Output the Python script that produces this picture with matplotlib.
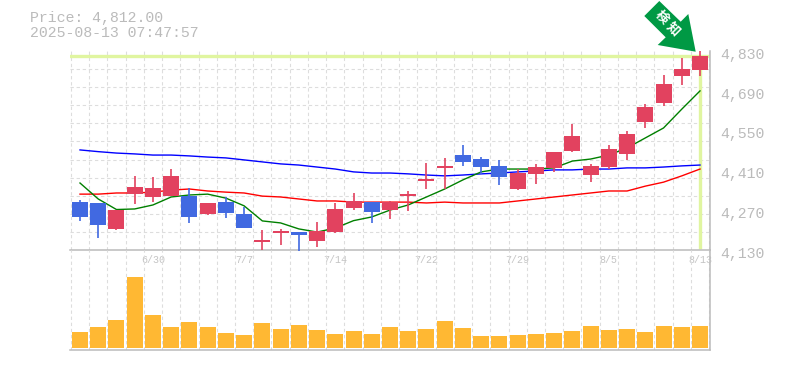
#!/usr/bin/env python3
"""Daily candlestick chart with moving averages and a volume panel."""
import matplotlib
matplotlib.use("Agg")
import matplotlib.pyplot as plt
import matplotlib.transforms as mtrans
import numpy as np
from matplotlib.patches import Polygon

# ----------------------- data -----------------------
opens = [4299, 4296, 4205, 4327, 4317, 4320, 4320, 4257, 4299, 4257, 4159, 4191,
         4194, 4162, 4194, 4278, 4299, 4271, 4320, 4373, 4419, 4464, 4450, 4426,
         4345, 4398, 4419, 4478, 4394, 4422, 4468, 4580, 4647, 4741, 4762]
closes = [4248, 4219, 4271, 4352, 4348, 4391, 4247, 4296, 4261, 4208, 4166, 4194,
          4184, 4198, 4275, 4303, 4264, 4299, 4327, 4380, 4426, 4440, 4422, 4387,
          4401, 4422, 4475, 4531, 4426, 4485, 4538, 4632, 4713, 4766, 4812]
highs = [4306, 4296, 4271, 4391, 4387, 4415, 4348, 4296, 4317, 4282, 4201, 4205,
         4194, 4229, 4296, 4331, 4299, 4303, 4338, 4436, 4454, 4499, 4457, 4447,
         4415, 4433, 4475, 4573, 4433, 4499, 4548, 4643, 4745, 4804, 4829]
lows = [4233, 4173, 4201, 4292, 4299, 4320, 4226, 4254, 4243, 4208, 4131, 4148,
        4127, 4141, 4191, 4271, 4226, 4240, 4268, 4345, 4345, 4426, 4398, 4359,
        4341, 4362, 4405, 4475, 4369, 4415, 4447, 4559, 4636, 4710, 4741]
ma_short = [4366, 4310, 4273, 4275, 4289, 4317, 4324, 4327, 4313, 4286, 4233, 4226,
            4205, 4194, 4208, 4234, 4247, 4271, 4289, 4317, 4345, 4377, 4405, 4415,
            4415, 4415, 4419, 4443, 4450, 4464, 4489, 4524, 4559, 4625, 4689]
ma_mid = [4327, 4327, 4331, 4331, 4334, 4341, 4345, 4338, 4334, 4331, 4320, 4317,
          4310, 4303, 4303, 4299, 4299, 4299, 4299, 4296, 4299, 4296, 4296, 4296,
          4303, 4310, 4317, 4324, 4331, 4338, 4338, 4355, 4369, 4391, 4415]
ma_long = [4482, 4476, 4471, 4468, 4464, 4464, 4461, 4457, 4454, 4447, 4440, 4433,
           4429, 4422, 4415, 4405, 4401, 4401, 4398, 4394, 4391, 4394, 4398, 4401,
           4405, 4408, 4412, 4412, 4415, 4415, 4419, 4419, 4422, 4426, 4429]
volumes = [160, 210, 280, 710, 330, 210, 260, 210, 150, 130, 250, 190, 230, 180,
           140, 170, 140, 210, 170, 190, 270, 200, 120, 120, 130, 140, 150, 170,
           220, 180, 190, 160, 220, 210, 220]
date_labels = ["6/30", "7/7", "7/14", "7/22", "7/29", "8/5", "8/13"]
date_index = [4, 9, 14, 19, 24, 29, 34]
price_ticks = [4830, 4690, 4550, 4410, 4270, 4130]
last_price = 4812

W, H = 785, 370
LEFT, RIGHT = 70, 710
MAIN_TOP, MAIN_BOTTOM, VOL_BOTTOM = 50.7, 250.3, 350
GRAY = "#bbbbbb"
GRID = "#dddddd"
UP = "#e2425f"
DOWN = "#4169e1"
HILITE = "#e0f5a0"
MONO = "Liberation Mono"
CJK = ["Noto Sans CJK JP", "DejaVu Sans"]


def box(top, bottom):
    return [LEFT / W, 1 - bottom / H, (RIGHT - LEFT) / W, (bottom - top) / H]


def style_panel(ax, xlim):
    ax.set_xlim(*xlim)
    ax.set_xticks(np.arange(len(opens) + 1) - 0.5, minor=True)
    ax.grid(which="minor", color=GRID, lw=0.8, ls=(0, (3, 2.5)))
    ax.tick_params(which="both", length=0)
    ax.set_axisbelow(True)
    for side in ["top", "left"]:
        ax.spines[side].set_visible(False)
    for side in ["right", "bottom"]:
        ax.spines[side].set_color(GRAY)
        ax.spines[side].set_linewidth(1.1)


fig = plt.figure(figsize=(W / 100, H / 100), dpi=100)
ax = fig.add_axes(box(MAIN_TOP, MAIN_BOTTOM))
vol = fig.add_axes(box(MAIN_BOTTOM, VOL_BOTTOM))
vol.patch.set_visible(False)

x = np.arange(len(opens))
xlim = (-0.548, 34.548)
o, c = np.array(opens), np.array(closes)
colors = [UP if b >= a else DOWN for a, b in zip(opens, closes)]

# ----------------------- price panel -----------------------
style_panel(ax, xlim)
ax.set_ylim(4130, 4830)
ax.set_yticks(np.linspace(4130, 4830, 12), minor=True)
ax.set_yticks(price_ticks)
ax.set_yticklabels([f"{p:,}" for p in price_ticks], family=MONO, fontsize=10.7, color=GRAY)
ax.yaxis.tick_right()
ax.tick_params(axis="y", which="major", pad=7.2)
ax.set_xticks(date_index)
ax.set_xticklabels(date_labels, family=MONO, fontsize=7.2, color="#c4c4c4")
ax.tick_params(axis="x", which="major", pad=3.5)
# labels sit a touch below their price
shift = mtrans.ScaledTranslation(0, -2.4 / 100, fig.dpi_scale_trans)
for lab in ax.get_yticklabels():
    lab.set_transform(lab.get_transform() + shift)

ax.axhline(last_price, color=HILITE, lw=2.4, zorder=1)
ax.vlines(x[-1], 4134, last_price, color=HILITE, lw=2.4, zorder=1)

ax.plot(x, ma_long, color="#0000ff", lw=1.0, zorder=2)
ax.plot(x, ma_mid, color="#ff0000", lw=1.0, zorder=2)
ax.plot(x, ma_short, color="#008000", lw=1.0, zorder=2)

ax.vlines(x, lows, highs, color=colors, lw=1.2, zorder=3, clip_on=False)
ax.bar(x, np.maximum(np.abs(c - o), 5), bottom=np.minimum(o, c), width=0.877,
       color=colors, zorder=4)

# ----------------------- volume panel -----------------------
style_panel(vol, xlim)
vol.set_ylim(-20, 977)
vol.set_xticks([])
vol.set_yticks([])
vol.bar(x, volumes, width=0.877, color="#ffb833", zorder=3)

# ----------------------- header and arrow -----------------------
fig.text(30 / W, 1 - 18 / H, "Price: 4,812.00", family=MONO, fontsize=10.7,
         color=GRAY, va="center")
fig.text(30 / W, 1 - 33 / H, "2025-08-13 07:47:57", family=MONO, fontsize=10.7,
         color=GRAY, va="center")

arrow_px = [(659.3, 1), (680.7, 21.7), (688.3, 14), (695.7, 51.7),
            (657.7, 45), (665.7, 37.3), (644.3, 16)]
arrow = Polygon([(px / W, 1 - py / H) for px, py in arrow_px], closed=True,
                transform=fig.transFigure, fc="#009944", ec="none", zorder=6)
fig.add_artist(arrow)
for ch, px, py in [("検", 662, 17), ("知", 673, 29)]:
    fig.text(px / W, 1 - py / H, ch, family=CJK, fontsize=9.5, weight="bold",
             color="white", rotation=-45, rotation_mode="anchor",
             ha="center", va="center", zorder=7)

fig.savefig("out.png", dpi=100)
